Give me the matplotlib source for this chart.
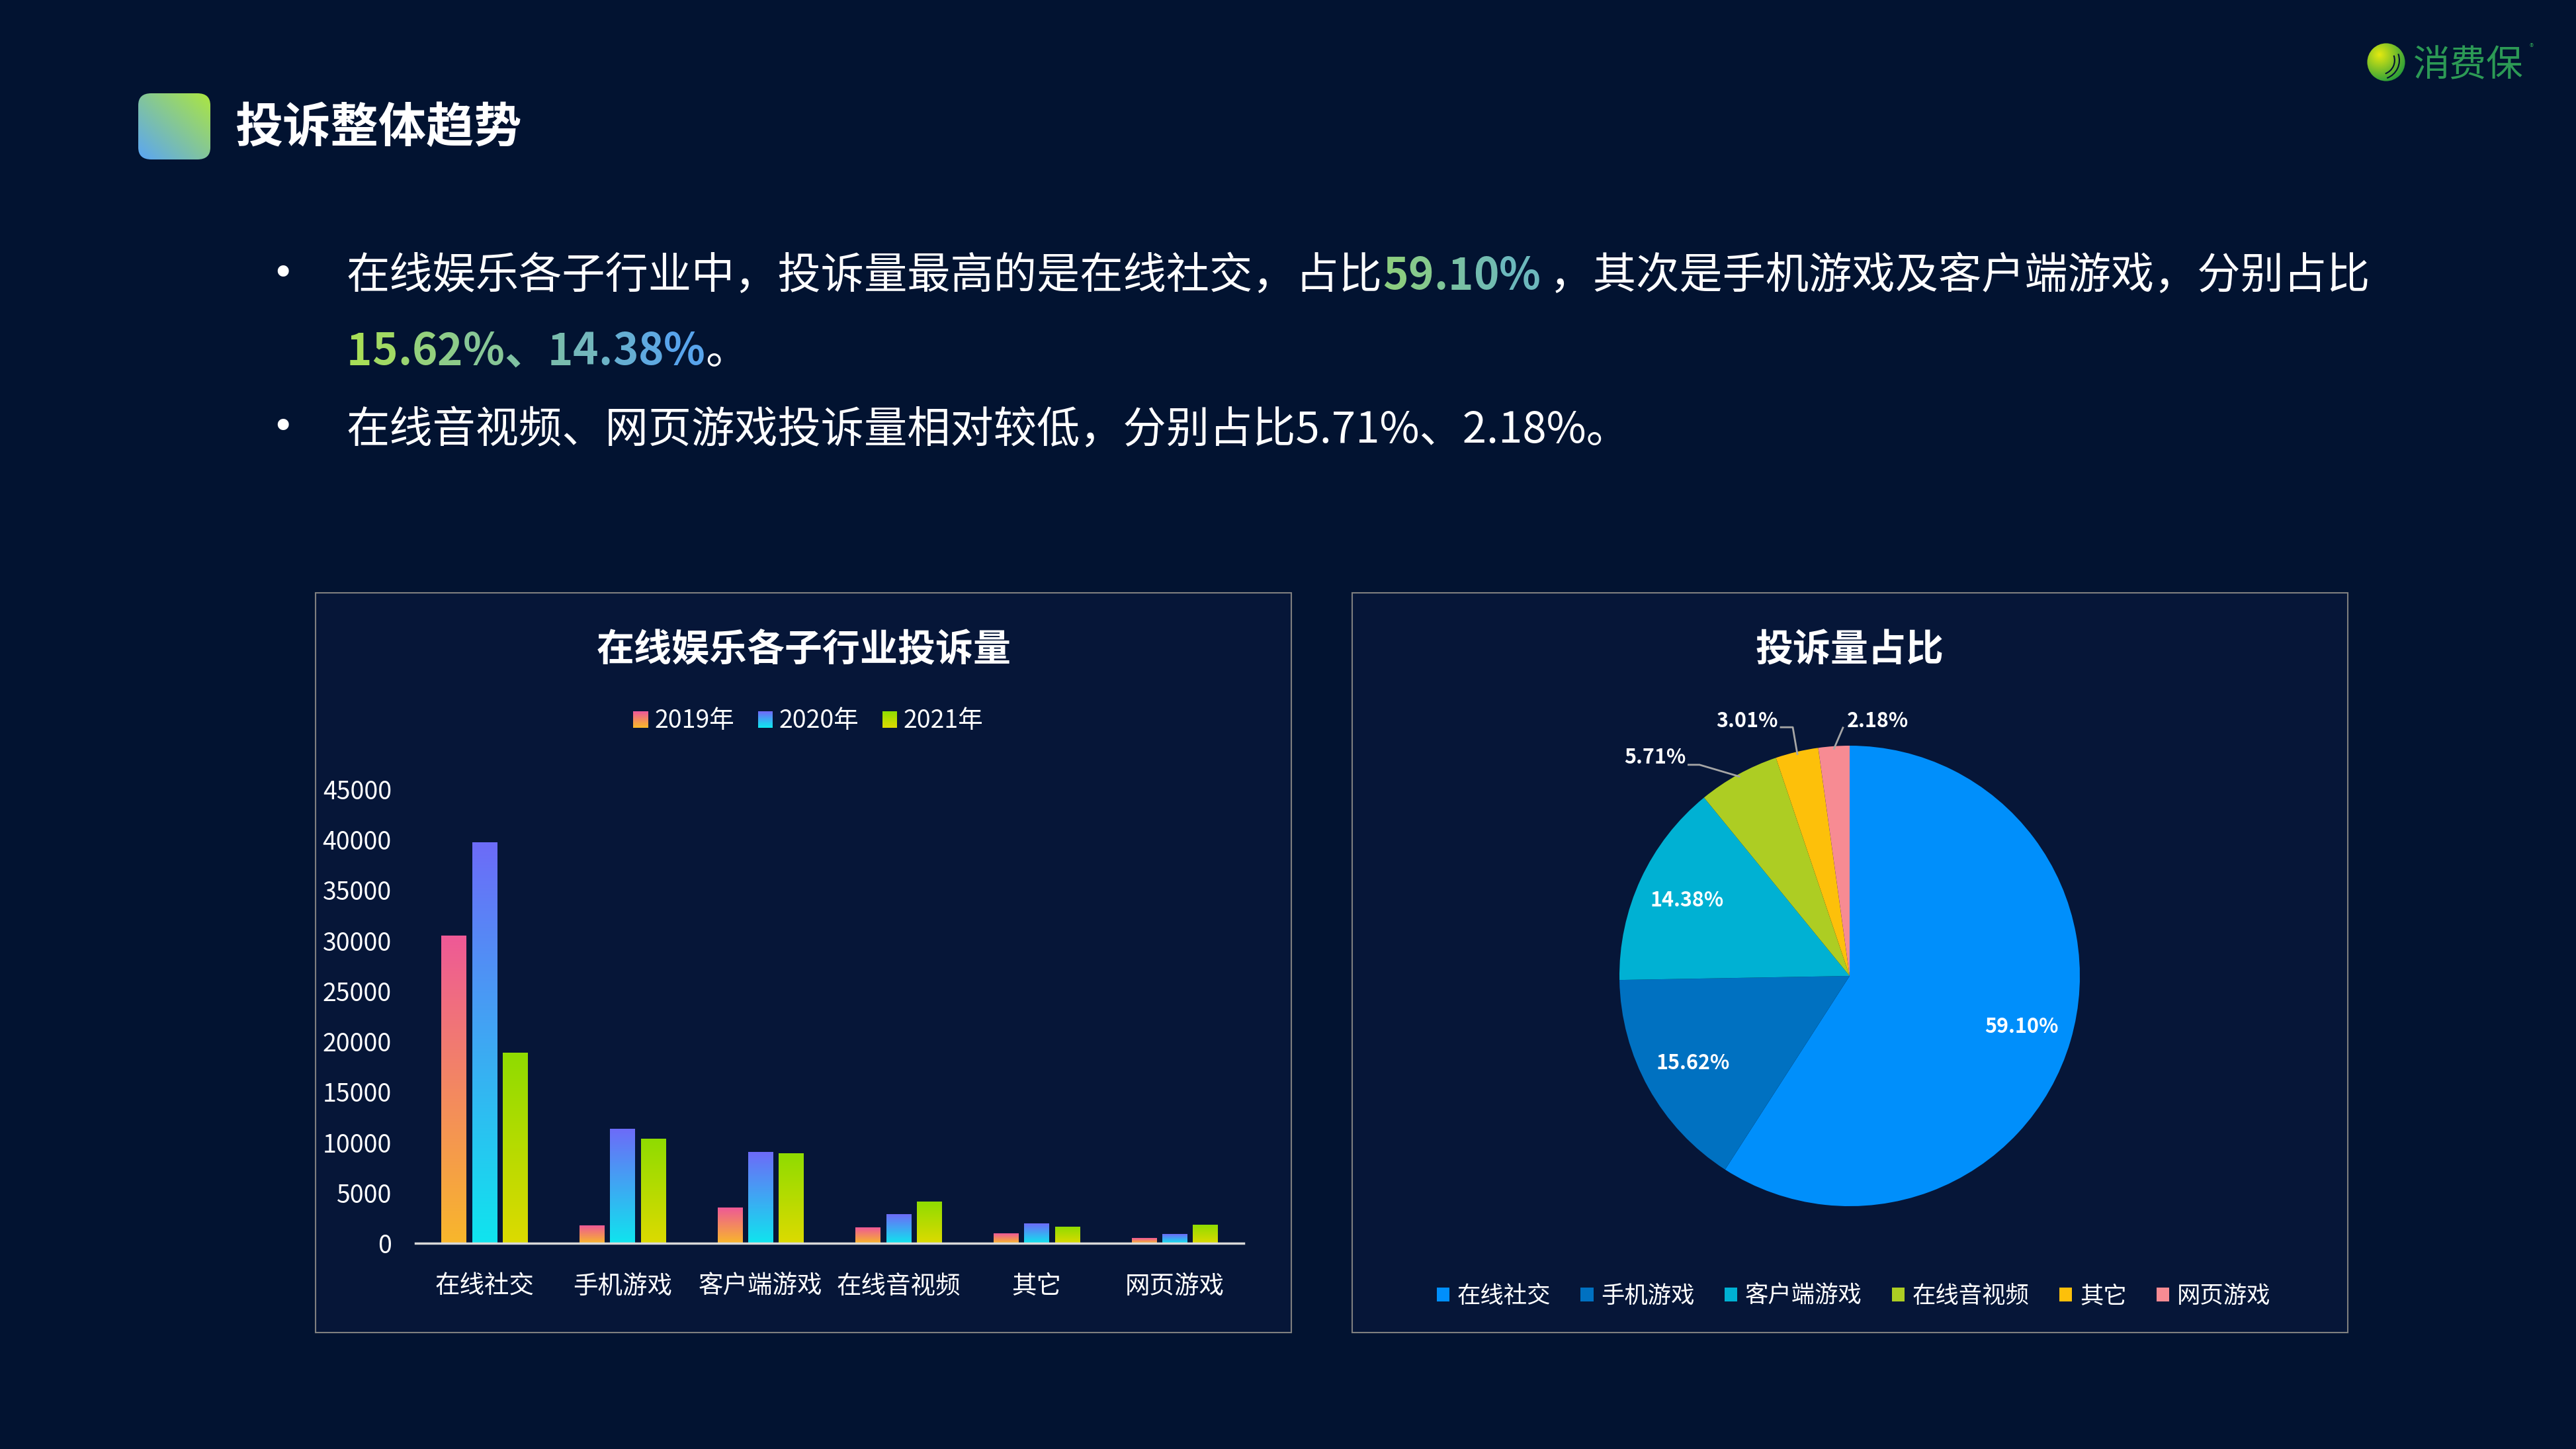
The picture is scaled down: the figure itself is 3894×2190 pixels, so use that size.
import numpy as np
import matplotlib
matplotlib.use('Agg')
import matplotlib.pyplot as plt
from matplotlib.patches import Rectangle, FancyBboxPatch, Circle, Arc
from matplotlib.legend_handler import HandlerBase
from matplotlib.colors import to_rgb

plt.rcParams['font.family'] = ['Noto Sans CJK SC', 'DejaVu Sans']

W, H = 3894, 2190
BG = '#021331'
PANEL = '#061638'

# bar chart data
categories = ['在线社交', '手机游戏', '客户端游戏', '在线音视频', '其它', '网页游戏']
years = ['2019年', '2020年', '2021年']
v2019 = [30500, 1750, 3500, 1550, 950, 500]
v2020 = [39700, 11300, 9050, 2850, 1950, 900]
v2021 = [18850, 10350, 8900, 4100, 1600, 1800]
yticks = [0, 5000, 10000, 15000, 20000, 25000, 30000, 35000, 40000, 45000]

# pie data
share_pct = [59.10, 15.62, 14.38, 5.71, 3.01, 2.18]
pie_colors = ['#008FFB', '#0071C1', '#00B1D3', '#ADCD23', '#FDC00A', '#F78B93']

# top/bottom colours of each year's bar gradient
grads = [('#EE5A96', '#F8B62C'), ('#6C6CF8', '#10E4EE'), ('#90DC00', '#DCDA00')]


def fx(x):
    return x / W


def fy(y):
    return 1 - y / H


def mix(c0, c1, t):
    a, b = np.array(to_rgb(c0)), np.array(to_rgb(c1))
    return tuple(a * (1 - t) + b * t)


def grad_img(top, bot, n=64):
    t = np.linspace(0, 1, n)[:, None, None]
    return np.array(to_rgb(top))[None, None, :] * (1 - t) + np.array(to_rgb(bot))[None, None, :] * t


class GradHandler(HandlerBase):
    def __init__(self, top, bot):
        super().__init__()
        self.top, self.bot = top, bot

    def create_artists(self, legend, orig_handle, xdescent, ydescent, width, height, fontsize, trans):
        n = 12
        arts = []
        for k in range(n):
            c = mix(self.top, self.bot, k / (n - 1))
            y0 = -ydescent + height * (1 - (k + 1) / n)
            arts.append(Rectangle((-xdescent, y0), width, height / n * 1.05,
                                  facecolor=c, edgecolor='none', transform=trans))
        return arts


fig = plt.figure(figsize=(W / 100, H / 100), dpi=100, facecolor=BG)
ov = fig.add_axes([0, 0, 1, 1])
ov.set_xlim(0, W)
ov.set_ylim(H, 0)
ov.axis('off')

# ---- header ----
axh = fig.add_axes([fx(209), fy(241), fx(109), 100 / H])
axh.axis('off')
gx, gy = np.meshgrid(np.linspace(0, 1, 100), np.linspace(0, 1, 100))
t = ((gx + gy) / 2)[:, :, None]
img = np.array(to_rgb('#5AA5F5')) * (1 - t) + np.array(to_rgb('#ACE640')) * t
rb = FancyBboxPatch((0, 0), 1, 1, boxstyle='round,pad=0,rounding_size=0.18',
                    transform=axh.transAxes, facecolor='none', edgecolor='none')
axh.add_patch(rb)
im = axh.imshow(img, extent=[0, 1, 0, 1], origin='lower', aspect='auto')
im.set_clip_path(rb)
axh.set_xlim(0, 1)
axh.set_ylim(0, 1)

ov.text(355, 194, '投诉整体趋势', fontsize=52, fontweight='bold', color='white', va='center', ha='left')

# logo
axl = fig.add_axes([fx(3577), fy(124), 60 / W, 60 / H])
axl.axis('off')
lx, ly = np.meshgrid(np.linspace(-1, 1, 80), np.linspace(-1, 1, 80))
d = np.clip(np.hypot(lx + 0.35, ly - 0.4) / 1.6, 0, 1)[:, :, None]
limg = np.array(to_rgb('#E4EA10')) * (1 - d) + np.array(to_rgb('#1E9A3C')) * d
circ = Circle((0, 0), 1, transform=axl.transData, facecolor='none', edgecolor='none')
axl.add_patch(circ)
li = axl.imshow(limg, extent=[-1, 1, -1, 1], origin='lower', aspect='auto')
li.set_clip_path(circ)
for r_ in (0.75, 1.0):
    axl.add_patch(Arc((-0.3, 0.1), 2 * r_, 2 * r_, theta1=-70, theta2=20, color=BG, lw=1.5))
axl.set_xlim(-1.05, 1.05)
axl.set_ylim(-1.05, 1.05)
ov.text(3648, 100, '消费保', fontsize=40, color='#2C9A55', va='center', ha='left')
ov.text(3824, 72, '®', fontsize=9, color='#2C9A55', va='center', ha='left')

# ---- bullet text ----
def chain(pieces, x, y, size):
    prev = None
    for s, c, wt in pieces:
        if prev is None:
            prev = ov.text(x, y, s, fontsize=size, color=c, fontweight=wt, va='center', ha='left')
        else:
            prev = ov.annotate(s, xy=(1, 0.5), xycoords=prev, fontsize=size, color=c,
                               fontweight=wt, va='center', ha='left')
    return prev


def grad_pieces(s, c0, c1):
    n = len(s)
    return [(ch, mix(c0, c1, i / max(n - 1, 1)), 'bold') for i, ch in enumerate(s)]


FS = 47
ov.text(427, 414, '•', fontsize=42, color='white', va='center', ha='center', family='DejaVu Sans')
ov.text(427, 647, '•', fontsize=42, color='white', va='center', ha='center', family='DejaVu Sans')
chain([('在线娱乐各子行业中，投诉量最高的是在线社交，占比', 'white', 'normal')]
      + grad_pieces('59.10%', '#8CCD80', '#6CB8BC')
      + [(' ，其次是手机游戏及客户端游戏，分别占比', 'white', 'normal')], 524, 418, FS)
chain(grad_pieces('15.62%、14.38%', '#A8DE58', '#58A4EC') + [('。', 'white', 'normal')], 524, 532, FS)
chain([('在线音视频、网页游戏投诉量相对较低，分别占比5.71%、2.18%。', 'white', 'normal')], 524, 651, FS)

# ---- panels ----
for x0, x1 in ((477, 1952), (2044, 3549)):
    ov.add_patch(Rectangle((x0, 896), x1 - x0, 2014 - 896, facecolor=PANEL,
                           edgecolor='#7F7F7F', lw=1.5, zorder=0))

ov.text(1215, 982, '在线娱乐各子行业投诉量', fontsize=41, fontweight='bold', color='white', ha='center', va='center')
ov.text(2796, 982, '投诉量占比', fontsize=41, fontweight='bold', color='white', ha='center', va='center')

# ---- bar chart ----
axb = fig.add_axes([fx(628), fy(1879), fx(1880 - 628), (1879 - 1193) / H])
axb.set_facecolor('none')
x = np.arange(len(categories))
offs = [-0.222, 0.0, 0.222]
bw = 0.18
for vals, off, (top, bot) in zip([v2019, v2020, v2021], offs, grads):
    bars = axb.bar(x + off, vals, width=bw, color='none', edgecolor='none')
    for b in bars:
        x0, h_ = b.get_x(), b.get_height()
        axb.imshow(grad_img(top, bot), extent=[x0, x0 + b.get_width(), 0, h_],
                   aspect='auto', zorder=2, interpolation='bilinear')
axb.set_xlim(-0.5, len(categories) - 0.5)
axb.set_ylim(0, 45000)
axb.set_yticks(yticks)
axb.set_xticks(x, categories)
axb.tick_params(axis='y', length=0, labelsize=27, labelcolor='white', pad=26)
axb.tick_params(axis='x', length=0, labelsize=27, labelcolor='white', pad=33)
for s in ('left', 'right', 'top'):
    axb.spines[s].set_visible(False)
axb.spines['bottom'].set_color('#D9D9D9')
axb.spines['bottom'].set_linewidth(2.5)
axb.spines['bottom'].set_zorder(3)

proxies = [Rectangle((0, 0), 1, 1) for _ in years]
axb.legend(proxies, years, handler_map={p: GradHandler(*g) for p, g in zip(proxies, grads)},
           loc='center', bbox_to_anchor=(fx(1222), fy(1090)), bbox_transform=fig.transFigure,
           ncol=3, frameon=False, fontsize=27, labelcolor='white', handlelength=0.6,
           handleheight=0.65, handletextpad=0.25, columnspacing=0.95)

# ---- pie chart ----
R = 348
side = 2.5 * R
axp = fig.add_axes([fx(2796 - side / 2), fy(1475 + side / 2), side / W, side / H])
wedges, texts, autotexts = axp.pie(
    share_pct, colors=pie_colors, startangle=90, counterclock=False,
    autopct=lambda p: f'{p:.2f}%' if p > 10 else '', pctdistance=0.78,
    textprops=dict(color='white', fontsize=22, fontweight='bold'),
    wedgeprops=dict(linewidth=0))
axp.set_xlim(-1.25, 1.25)
axp.set_ylim(-1.25, 1.25)

# outside labels: (wedge index, text x, text y, ha, leader start, elbow)
outside = [
    (3, -0.712, 0.948, 'right', (-0.700, 0.917), (-0.652, 0.917)),
    (4, -0.310, 1.106, 'right', (-0.299, 1.080), (-0.247, 1.080)),
    (5, -0.012, 1.106, 'left', (-0.029, 1.078), (-0.029, 1.078)),
]
for i, tx, ty, ha, p0, p1 in outside:
    w = wedges[i]
    mid = np.deg2rad((w.theta1 + w.theta2) / 2)
    ex, ey = 0.99 * np.cos(mid), 0.99 * np.sin(mid)
    axp.plot([p0[0], p1[0], ex], [p0[1], p1[1], ey], color='#A6A6A6', lw=2, clip_on=False)
    axp.text(tx, ty, f'{share_pct[i]:.2f}%', color='white', fontsize=22, fontweight='bold',
             ha=ha, va='center')

axp.legend(wedges, categories, loc='center', bbox_to_anchor=(fx(2802), fy(1959)),
           bbox_transform=fig.transFigure, ncol=6, frameon=False, fontsize=25.5,
           labelcolor='white', handlelength=0.55, handleheight=0.55, handletextpad=0.33,
           columnspacing=1.27)

fig.savefig('out.png', dpi=100, facecolor=BG)
